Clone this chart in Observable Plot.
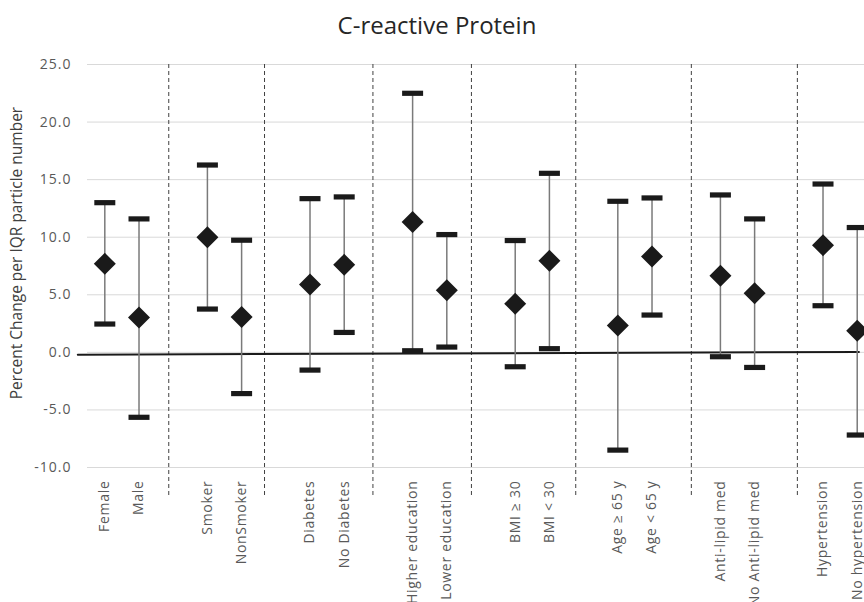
<!DOCTYPE html>
<html>
<head>
<meta charset="utf-8">
<script src="https://cdn.jsdelivr.net/npm/d3@7"></script>
<script src="https://cdn.jsdelivr.net/npm/@observablehq/plot@0.6"></script>
<style>
  html, body { margin: 0; padding: 0; background: #fff; overflow: hidden; }
  #title { height: 46px; line-height: 50px; text-align: center; padding-left: 10px; font-family: "Open Sans", sans-serif; font-size: 24px; color: #262626; }
  #chart svg { display: block; }
  #chart svg g[aria-label="x-axis tick label"] text { letter-spacing: 0.7px; }
  #chart svg g[aria-label="y-axis tick label"] text { letter-spacing: 1px; }
</style>
</head>
<body>
<div id="title">C-reactive Protein</div>
<div id="chart"></div>
<script>
const labels = ["Female","Male","Smoker","NonSmoker","Diabetes","No Diabetes","Higher education","Lower education","BMI ≥ 30","BMI < 30","Age ≥ 65 y","Age < 65 y","Anti-lipid med","No Anti-lipid med","Hypertension","No hypertension"];
const positions = [0,1,3,4,6,7,9,10,12,13,15,16,18,19,21,22];
const estimate = [7.69,3.03,10.0,3.06,5.90,7.6,11.33,5.40,4.22,7.95,2.34,8.32,6.65,5.14,9.31,1.88];
const upper = [13.0,11.59,16.27,9.74,13.35,13.5,22.5,10.23,9.71,15.55,13.12,13.41,13.67,11.59,14.62,10.84];
const lower = [2.46,-5.64,3.76,-3.58,-1.54,1.73,0.14,0.46,-1.25,0.32,-8.49,3.24,-0.38,-1.31,4.05,-7.18];
const separators = [1.87,4.67,7.84,10.72,13.77,17.15,20.25];
const yTicks = [-10,-5,0,5,10,15,20,25];
const trendX = [-0.79, 22.05];
const trendY = [-0.2, 0.03];
const yLabel = "Percent Change per IQR particle number";

const rows = labels.map((label, i) => ({label, x: positions[i], est: estimate[i], hi: upper[i], lo: lower[i]}));
const caps = rows.flatMap(r => [{x: r.x, y: r.hi}, {x: r.x, y: r.lo}]);
const trend = trendX.map((x, i) => ({x, y: trendY[i]}));
const labelByPos = new Map(rows.map(r => [r.x, r.label]));

const capSymbol = {draw(ctx) { ctx.rect(-10.5, -2.6, 21, 5.2); }};
const diamondSymbol = {draw(ctx) { ctx.moveTo(0, -11); ctx.lineTo(11, 0); ctx.lineTo(0, 11); ctx.lineTo(-11, 0); ctx.closePath(); }};

const chart = Plot.plot({
  width: 864,
  height: 556,
  marginTop: 18,
  marginBottom: 135,
  marginLeft: 87,
  marginRight: 0,
  style: {fontFamily: "'Open Sans', sans-serif", background: "#fff"},
  x: {type: "linear", domain: [-0.506, 22.213]},
  y: {domain: [-10, 25]},
  marks: [
    Plot.ruleY(yTicks, {stroke: "#d9d9d9", strokeWidth: 1}),
    Plot.axisY({ticks: yTicks, tickFormat: d => d.toFixed(1), tickSize: 0, tickPadding: 16, fontSize: 14, fill: "#595959", label: null}),
    Plot.axisX({ticks: positions, tickFormat: d => labelByPos.get(d), tickRotate: -90, tickSize: 0, tickPadding: 13, fontSize: 14, fill: "#595959", label: null}),
    Plot.text([yLabel], {frameAnchor: "left", textAnchor: "middle", rotate: -90, dx: -70, dy: -13, fontSize: 15.5, fill: "#404040"}),
    Plot.ruleX(separators, {y1: 25, y2: -12.55, stroke: "#404040", strokeWidth: 1, strokeDasharray: "4,3"}),
    Plot.line(trend, {x: "x", y: "y", stroke: "#1a1a1a", strokeWidth: 2}),
    Plot.ruleX(rows, {x: "x", y1: "lo", y2: "hi", stroke: "#7a7a7a", strokeWidth: 1.5}),
    Plot.dot(caps, {x: "x", y: "y", symbol: capSymbol, fill: "#1a1a1a", stroke: "none", r: 5}),
    Plot.dot(rows, {x: "x", y: "est", symbol: diamondSymbol, fill: "#1a1a1a", stroke: "none", r: 5})
  ]
});
document.getElementById("chart").appendChild(chart);
</script>
</body>
</html>
